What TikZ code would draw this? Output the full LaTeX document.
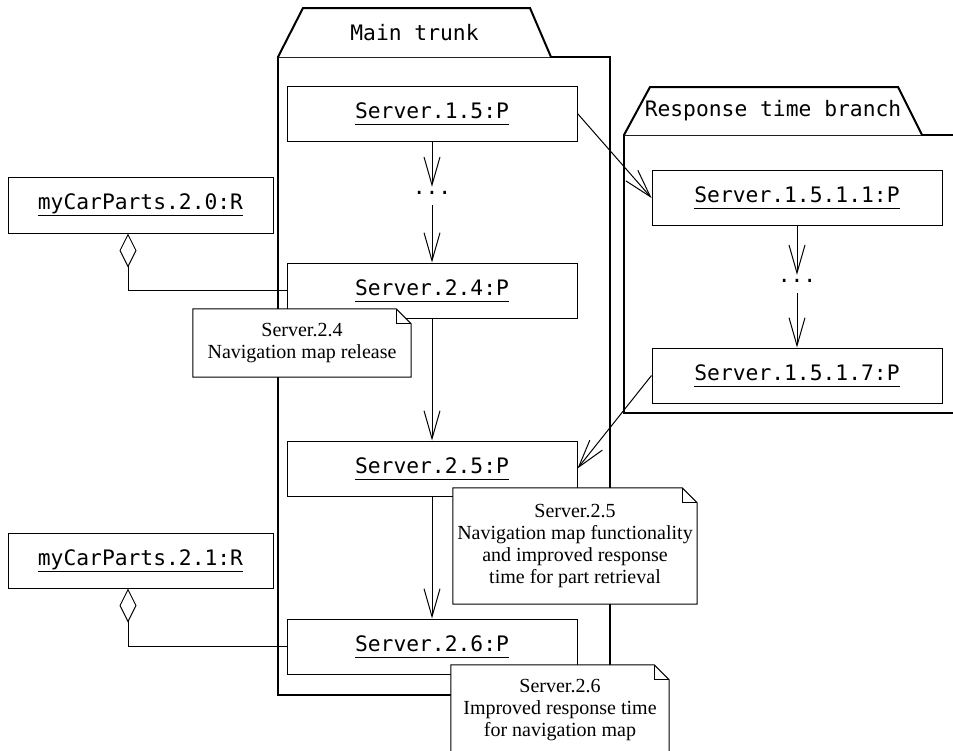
\documentclass[tikz,border=0pt]{standalone}
\usepackage{fontspec}
\setmainfont{Liberation Serif}
\newfontfamily\monof{DejaVu Sans Mono}
\usetikzlibrary{arrows.meta}
\newcommand\ulx[1]{\underline{\vphantom{y}#1}}
\pgfdeclarelayer{notebg}
\pgfdeclarelayer{notefg}
\pgfsetlayers{main,notebg,notefg}
\newcommand\noteoutline[1]{%
  \draw[noteline] (#1.north west) -- ([xshift=-15pt]#1.north east) -- ([yshift=-15pt]#1.north east) -- (#1.south east) -- (#1.south west) -- cycle;
  \draw[line width=1pt] ([xshift=-15pt]#1.north east) -- ([xshift=-15pt,yshift=-15pt]#1.north east) -- ([yshift=-15pt]#1.north east);}
\begin{document}
\begin{tikzpicture}[x=1pt,y=-1pt,
  frame/.style={line width=2pt, line join=miter, fill=white},
  obj/.style={draw, line width=1pt, fill=white, minimum width=290pt, minimum height=55pt, inner sep=0pt, font=\monof\fontsize{21.3}{24}\selectfont},
  lbl/.style={font=\monof\fontsize{21.3}{24}\selectfont, inner sep=0pt},
  dots/.style={lbl, text height=7pt, text depth=11pt, anchor=base},
  flow/.style={line width=1pt, -{Straight Barb[length=28pt,width=16pt,line width=1pt]}},
  agg/.style={line width=1pt, {Diamond[open,length=34pt,width=17pt,line width=1pt]}-},
  notebox/.style={inner sep=0pt, align=center, font=\fontsize{20}{22}\selectfont},
  noteline/.style={line width=1pt, fill=white, line join=miter},
]
\useasboundingbox (0,0) rectangle (953,750);
% main trunk frame
\draw[frame] (278,57) rectangle (610,695);
\draw[frame] (278,57) -- (303,8) -- (530,8) -- (551,57);
\node[lbl] (maintab) at (414.5,33) {Main trunk};
% response time branch frame
\draw[frame] (624,135) rectangle (970,413);
\draw[frame] (624,135) -- (650,87) -- (898,87) -- (922,135);
\node[lbl] (branchtab) at (773,111) {Response time branch};
% objects
\node[obj] (s15) at (432,113.5) {\ulx{Server.1.5:P}};
\node[dots] (d1) at (432,194) {...};
\node[obj] (s24) at (432,290.5) {\ulx{Server.2.4:P}};
\node[obj] (s25) at (432,468.5) {\ulx{Server.2.5:P}};
\node[obj] (s26) at (432,646.5) {\ulx{Server.2.6:P}};
\node[obj] (b1) at (797,198) {\ulx{Server.1.5.1.1:P}};
\node[dots] (d2) at (797,282) {...};
\node[obj] (b7) at (797,375.5) {\ulx{Server.1.5.1.7:P}};
\node[obj, minimum width=265pt, minimum height=56pt] (mcp20) at (140.5,205) {\ulx{myCarParts.2.0:R}};
\node[obj, minimum width=265pt] (mcp21) at (140.5,560.5) {\ulx{myCarParts.2.1:R}};
% connectors
\draw[flow] (s15.south) -- (d1.north);
\draw[flow] (d1.south) -- (s24.north);
\draw[flow] (s24.south) -- (s25.north);
\draw[flow] (s25.south) -- (s26.north);
\draw[flow] (s15.east) -- (b1.west);
\draw[flow] (b1.south) -- (d2.north);
\draw[flow] (d2.south) -- (b7.north);
\draw[flow] (b7.west) -- (s25.east);
\draw[agg] ([xshift=-12.5pt]mcp20.south) |- (s24.west);
\draw[agg] ([xshift=-12.5pt]mcp21.south) |- (s26.west);
% notes
\begin{pgfonlayer}{notefg}
\node[notebox, minimum width=218pt, minimum height=68pt] (n24) at (302,343) {Server.2.4\\Navigation map release};
\node[notebox, minimum width=244pt, minimum height=116pt] (n25) at (575,546) {Server.2.5\\Navigation map functionality\\and improved response\\time for part retrieval};
\node[notebox, minimum width=218pt, minimum height=91pt] (n26) at (560,710.5) {Server.2.6\\Improved response time\\for navigation map};
\end{pgfonlayer}
\begin{pgfonlayer}{notebg}
\noteoutline{n24}
\noteoutline{n25}
\noteoutline{n26}
\end{pgfonlayer}
\end{tikzpicture}
\end{document}
